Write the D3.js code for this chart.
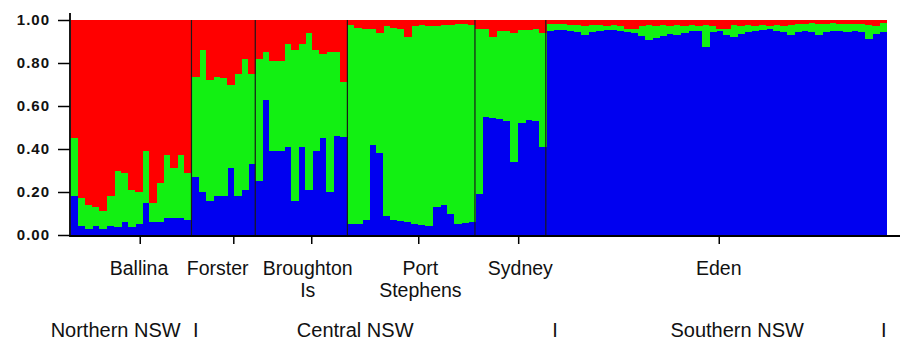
<!DOCTYPE html>
<meta charset="utf-8">
<style>
  body { margin: 0; background: #fff; }
  svg text { font-family: "Liberation Sans", Arial, sans-serif; fill: #111; }
  .yaxis text { font-size: 15px; font-weight: bold; letter-spacing: 1px; }
  .pop { font-size: 19.5px; text-anchor: middle; }
  .region { font-size: 20px; text-anchor: middle; }
  .bars rect { shape-rendering: crispEdges; }
</style>
<svg width="905" height="345"></svg>
<script src="https://cdn.jsdelivr.net/npm/d3@7"></script>
<script>

// populations, in plot order, and how many individuals each has
var populations = ["Ballina", "Forster", "Broughton Is", "Port Stephens", "Sydney", "Eden"];
var popSizes = [17, 9, 13, 18, 10, 48];
var popLines = [["Ballina"], ["Forster"], ["Broughton", "Is"], ["Port", "Stephens"], ["Sydney"], ["Eden"]];
// axis tick / label spots, in individuals from the left edge
var popTicks = [9.7, 22.9, 33.9, 49.0, 63.1, 91.4];
var popLabelAt = [9.6, 20.7, 33.4, 49.3, 63.4, 91.4];

var regions = ["Northern NSW", "Central NSW", "Southern NSW"];
var regionLabelAt = [6.3, 40.1, 94.0];
var regionBreaks = [17.6, 68.3, 114.7];

var yTicks = [0, 0.2, 0.4, 0.6, 0.8, 1.0];

// membership (Q) per individual for the three clusters
var blue = [
  .18,.04,.03,.04,.03,.04,.035,.06,.035,.05,.15,.06,.06,.08,.08,.08,.07,          // Ballina
  .27,.20,.16,.18,.18,.31,.18,.21,.33,                                             // Forster
  .25,.63,.39,.39,.41,.16,.41,.21,.39,.45,.20,.46,.455,                           // Broughton Is
  .05,.05,.07,.42,.38,.09,.07,.065,.06,.05,.045,.04,.13,.14,.10,.05,.055,.06,    // Port Stephens
  .19,.55,.545,.54,.53,.34,.52,.535,.53,.41,                                       // Sydney
  .947,.953,.953,.950,.943,.932,.943,.950,.953,.953,.950,.943,.938,.927,.907,.916, // Eden
  .927,.935,.932,.938,.947,.950,.873,.943,.950,.932,.922,.935,.943,.950,.953,.958,
  .950,.943,.932,.943,.947,.943,.932,.943,.947,.950,.943,.950,.943,.912,.935,.943
];
var green = [
  .27,.13,.11,.09,.08,.14,.265,.23,.175,.15,.24,.09,.18,.29,.23,.29,.22,
  .465,.66,.56,.555,.55,.39,.57,.61,.42,
  .57,.22,.42,.42,.48,.70,.48,.73,.47,.39,.65,.39,.255,
  .925,.915,.89,.54,.56,.88,.895,.895,.86,.92,.93,.93,.84,.835,.875,.93,.925,.915,
  .77,.41,.375,.41,.42,.60,.435,.42,.43,.53,
  .033,.027,.027,.025,.032,.038,.032,.025,.017,.022,.02,.017,.022,.043,.068,.054,
  .048,.035,.043,.032,.028,.02,.102,.027,.01,.028,.053,.035,.032,.02,.022,.012,
  .025,.027,.043,.037,.033,.042,.048,.037,.038,.03,.037,.03,.037,.063,.035,.042
];
var red = [
  .55,.83,.86,.87,.89,.82,.70,.71,.79,.80,.61,.85,.76,.63,.69,.63,.71,
  .265,.14,.28,.265,.27,.30,.25,.18,.25,
  .18,.15,.19,.19,.11,.14,.11,.06,.14,.16,.15,.15,.29,
  .025,.035,.04,.04,.06,.03,.035,.04,.08,.03,.025,.03,.03,.025,.025,.02,.02,.025,
  .04,.04,.08,.05,.05,.06,.045,.045,.04,.06,
  .02,.02,.02,.025,.025,.03,.025,.025,.03,.025,.03,.04,.04,.03,.025,.03,
  .025,.03,.025,.03,.025,.03,.025,.03,.04,.04,.025,.03,.025,.03,.025,.03,
  .025,.03,.025,.02,.02,.015,.02,.02,.015,.02,.02,.02,.02,.025,.03,.015
];

var N = d3.sum(popSizes);
var svg = d3.select("svg");

var x = d3.scaleBand().domain(d3.range(N)).range([71, 886]);
var xPos = d3.scaleLinear().domain([0, N]).range([71, 886]);
var y = d3.scaleLinear().domain([0, 1]).range([235, 20]);
var color = d3.scaleOrdinal()
    .domain(["blue", "green", "red"])
    .range(["#0000f0", "#12f012", "#ff0000"]);

var rows = d3.range(N).map(function(i) { return {blue: blue[i], green: green[i], red: red[i]}; });
var series = d3.stack().keys(["blue", "green", "red"])(rows);

//the bars
svg.append("g").attr("class", "bars").selectAll("g")
  .data(series)
  .enter().append("g")
    .attr("fill", function(d) { return color(d.key); })
  .selectAll("rect")
  .data(function(d) { return d; })
  .enter().append("rect")
    .attr("x", function(d, i) { return x(i); })
    .attr("width", x.bandwidth() + 1)
    .attr("y", function(d) { return y(d[1]); })
    .attr("height", function(d) { return y(d[0]) - y(d[1]); });

//lines between populations
var bounds = d3.cumsum(popSizes).slice(0, -1);
svg.append("g").selectAll("line")
  .data(bounds)
  .enter().append("line")
    .attr("x1", function(d) { return xPos(d); })
    .attr("x2", function(d) { return xPos(d); })
    .attr("y1", y(1))
    .attr("y2", y(0))
    .attr("stroke", "#1a1a1a")
    .attr("stroke-width", 1.2);

//y axis
var yAxis = svg.append("g")
    .attr("class", "yaxis")
    .attr("transform", "translate(70,0)")
    .call(d3.axisLeft(y).tickValues(yTicks).tickFormat(d3.format(".2f")).tickSize(12).tickPadding(8));
yAxis.select(".domain").remove();
yAxis.selectAll(".tick line").attr("stroke-width", 1.5);
yAxis.append("line")
    .attr("y1", 13).attr("y2", 237)
    .attr("stroke", "#000").attr("stroke-width", 1.8);

//x axis
var xAxis = svg.append("g")
    .attr("transform", "translate(0,236)")
    .call(d3.axisBottom(xPos).tickValues(popTicks).tickFormat("").tickSize(8).tickSizeOuter(0));
xAxis.select(".domain").remove();
xAxis.selectAll(".tick line").attr("stroke-width", 1.5);
xAxis.append("line")
    .attr("x1", 70).attr("x2", 900)
    .attr("stroke", "#000").attr("stroke-width", 1.8);

//population names
var pop = svg.append("g").selectAll("text")
  .data(popLines)
  .enter().append("text")
    .attr("class", "pop")
    .attr("transform", function(d, i) { return "translate(" + xPos(popLabelAt[i]) + ",275)"; });
pop.selectAll("tspan")
  .data(function(d) { return d; })
  .enter().append("tspan")
    .attr("x", 0)
    .attr("y", function(d, i) { return i * 22; })
    .text(function(d) { return d; });

//regions
svg.append("g").selectAll("text")
  .data(regions)
  .enter().append("text")
    .attr("class", "region")
    .attr("x", function(d, i) { return xPos(regionLabelAt[i]); })
    .attr("y", 337)
    .text(function(d) { return d; });

svg.append("g").selectAll("text")
  .data(regionBreaks)
  .enter().append("text")
    .attr("class", "region")
    .attr("x", function(d) { return xPos(d); })
    .attr("y", 337)
    .text("I");

</script>
